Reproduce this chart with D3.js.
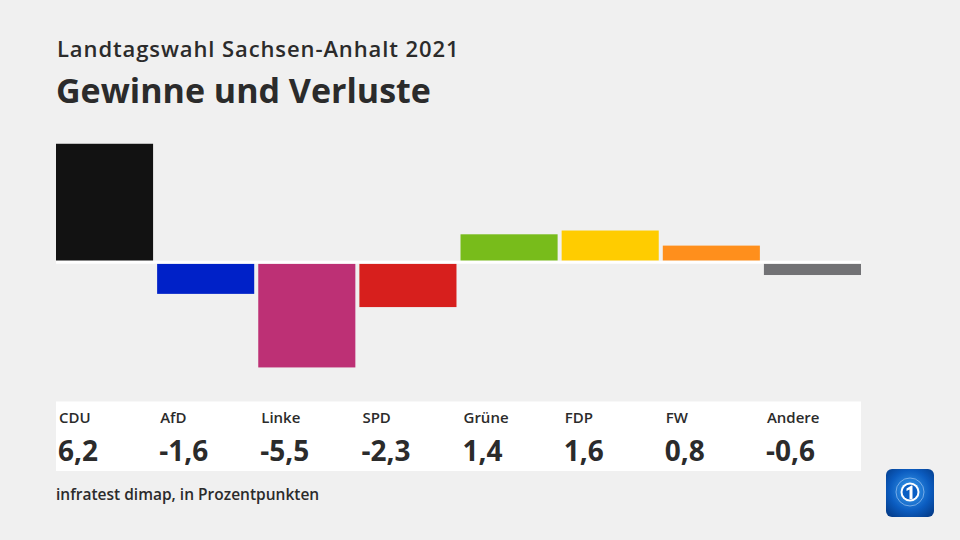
<!DOCTYPE html>
<html><head><meta charset="utf-8">
<script src="https://cdn.jsdelivr.net/npm/d3@7"></script>
<style>body{margin:0;background:#f0f0f0;}svg{display:block;}</style>
</head><body>
<svg id="c" width="960" height="540"></svg>
<script>
const parties = ["CDU","AfD","Linke","SPD","Grüne","FDP","FW","Andere"];
const values = [6.2,-1.6,-5.5,-2.3,1.4,1.6,0.8,-0.6];
const valueLabels = ["6,2","-1,6","-5,5","-2,3","1,4","1,6","0,8","-0,6"];
const colors = ["#121212","#0021c8","#bd3075","#d71f1d","#78bc1b","#ffcc00","#ff8f1c","#727275"];
const title = "Gewinne und Verluste";
const subtitle = "Landtagswahl Sachsen-Anhalt 2021";
const source = "infratest dimap, in Prozentpunkten";

const font = "'Open Sans', 'Noto Sans', sans-serif";
const svg = d3.select("#c");
svg.append("rect").attr("width",960).attr("height",540).attr("fill","#f0f0f0");

svg.append("text").attr("x",57).attr("y",57).attr("font-family",font).attr("font-weight",600)
  .attr("font-size",22).attr("letter-spacing",0.9).attr("fill","#2b2b2b").text(subtitle);
svg.append("text").attr("x",56).attr("y",103).attr("font-family",font).attr("font-weight",700)
  .attr("font-size",34).attr("fill","#2b2b2b").text(title);

const x = d3.scaleBand().domain(parties).range([56,861]).paddingInner(0.04).paddingOuter(0);
const posBase = 260.7, negBase = 263.7;
const k = 18.86; // px per unit
const yPos = d3.scaleLinear().domain([0,6.2]).range([posBase, posBase-6.2*k]);
const yNeg = d3.scaleLinear().domain([0,-5.5]).range([negBase, negBase+5.5*k]);

svg.selectAll("rect.bar").data(parties).join("rect").attr("class","bar")
  .attr("x",d=>x(d)).attr("width",x.bandwidth())
  .attr("y",(d,i)=> values[i]>=0 ? yPos(values[i]) : negBase)
  .attr("height",(d,i)=> values[i]>=0 ? posBase-yPos(values[i]) : yNeg(values[i])-negBase)
  .attr("fill",(d,i)=>colors[i]);
// zero line
svg.append("rect").attr("x",56).attr("width",805).attr("y",posBase).attr("height",negBase-posBase)
  .attr("fill","#fff");

// table
svg.append("rect").attr("x",56).attr("y",401.5).attr("width",805).attr("height",69.5).attr("fill","#fff");
svg.selectAll("text.pl").data(parties).join("text").attr("class","pl")
  .attr("x",d=>x(d)+3).attr("y",423).attr("font-family",font).attr("font-weight",600)
  .attr("font-size",15).attr("fill","#2b2b2b").text(d=>d);
svg.selectAll("text.vl").data(parties).join("text").attr("class","vl")
  .attr("x",d=>x(d)+2).attr("y",461).attr("font-family",font).attr("font-weight",700)
  .attr("font-size",28).attr("fill","#2b2b2b").text((d,i)=>valueLabels[i]);

svg.append("text").attr("x",56).attr("y",500).attr("font-family",font).attr("font-weight",600)
  .attr("font-size",15.5).attr("fill","#2b2b2b").text(source);

// logo
const defs = svg.append("defs");
const rg = defs.append("radialGradient").attr("id","lg").attr("cx","0.5").attr("cy","0.45").attr("r","0.7");
rg.append("stop").attr("offset","0").attr("stop-color","#3fa2f0");
rg.append("stop").attr("offset","0.6").attr("stop-color","#0b5cc0");
rg.append("stop").attr("offset","1").attr("stop-color","#043a86");
svg.append("rect").attr("x",886).attr("y",469).attr("width",48).attr("height",48).attr("rx",6).attr("fill","url(#lg)");
svg.append("circle").attr("cx",910).attr("cy",492).attr("r",14).attr("fill","none").attr("stroke","#cfe6ff").attr("stroke-opacity",0.5).attr("stroke-width",1);
svg.append("circle").attr("cx",910).attr("cy",492).attr("r",9.5).attr("fill","#fff");
svg.append("circle").attr("cx",910).attr("cy",492).attr("r",7.5).attr("fill","#0a5fc4");
svg.append("path").attr("d","M906.5,488.5 L911.5,485.5 L912.5,485.5 L912.5,499 L909.5,499 L909.5,489.5 L906.5,491 Z").attr("fill","#fff");
</script>
</body></html>
